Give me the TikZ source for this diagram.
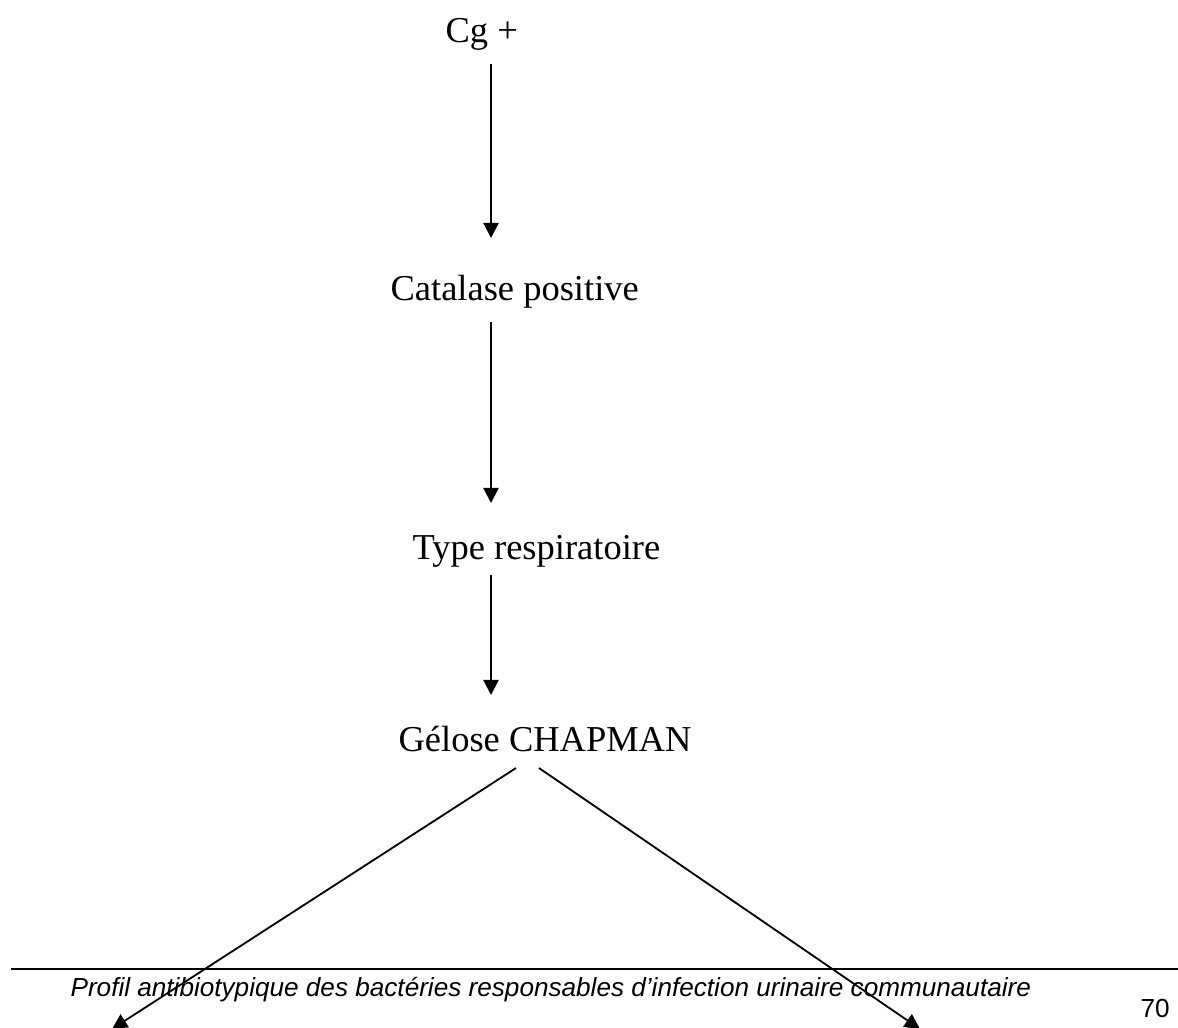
\documentclass[tikz,border=0pt]{standalone}
\usepackage{fontspec}
\setmainfont{Liberation Serif}
\newfontfamily\footfont{Liberation Sans}
\usetikzlibrary{arrows.meta,calc}

\begin{document}
\begin{tikzpicture}[x=0.329pt,y=-0.329pt,
  step label/.style={inner sep=0pt,anchor=base west,font=\fontsize{12}{14}\selectfont},
  flow/.style={line width=0.7pt,-{Triangle[length=5pt,width=5pt]}},
  foot label/.style={inner sep=0pt,anchor=base west,font=\footfont\fontsize{8.6}{10}\selectfont}]
  \useasboundingbox (0,0) rectangle (1178,1027);
  \clip (0,0) rectangle (1178,1027);

  % flow steps
  \node[step label] (cg)  at (445,42)  {Cg +};
  \node[step label] (cat) at (390,300) {Catalase positive};
  \node[step label] (typ) at (412,559) {Type respiratoire};
  \node[step label] (gel) at (398,751) {Gélose CHAPMAN};

  % shared vertical axis of the straight arrows
  \coordinate (ax) at (491,0);
  % ends of the two branches, at the page edge
  \coordinate (bl) at (112,1029);
  \coordinate (br) at (920,1029);

  \draw[flow] ($(cg.base -| ax)+(0,22)$)  -- ($(cat.base -| ax)+(0,-62)$);
  \draw[flow] ($(cat.base -| ax)+(0,22)$) -- ($(typ.base -| ax)+(0,-56)$);
  \draw[flow] ($(typ.base -| ax)+(0,16)$) -- ($(gel.base -| ax)+(0,-56)$);
  \draw[flow,line width=0.6pt] ($(gel.base west)+(118,17)$) -- (bl);
  \draw[flow,line width=0.6pt] ($(gel.base west)+(141,17)$) -- (br);

  % page footer
  \coordinate (rl) at (11,969);
  \coordinate (rr) at (1178,969);
  \draw[line width=0.7pt] (rl) -- (rr);
  \node[foot label] (ftxt) at (70,996) {\itshape Profil antibiotypique des bactéries responsables d’infection urinaire communautaire};
  \node[foot label] (fnum) at (1140,1017) {70};
\end{tikzpicture}
\end{document}
